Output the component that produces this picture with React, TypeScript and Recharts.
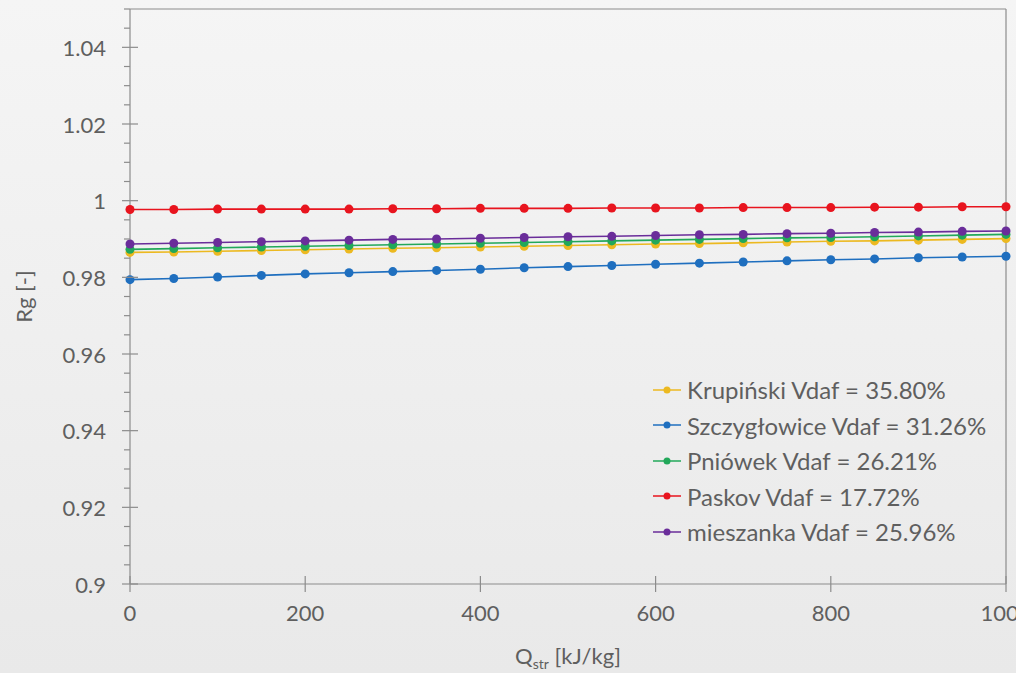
import React from "react";
import { LineChart, Line, XAxis, YAxis, Legend, ReferenceLine } from "recharts";

const qStr = [0, 50, 100, 150, 200, 250, 300, 350, 400, 450, 500, 550, 600, 650, 700, 750, 800, 850, 900, 950, 1000];

const krupinski = [0.9865, 0.9866, 0.9868, 0.9870, 0.9872, 0.9874, 0.9876, 0.9877, 0.9879, 0.9881, 0.9883, 0.9885, 0.9887, 0.9888, 0.9890, 0.9892, 0.9894, 0.9895, 0.9897, 0.9899, 0.9901];
const szczyglowice = [0.9794, 0.9797, 0.9801, 0.9805, 0.9809, 0.9812, 0.9815, 0.9818, 0.9821, 0.9825, 0.9828, 0.9831, 0.9834, 0.9837, 0.9840, 0.9843, 0.9846, 0.9848, 0.9851, 0.9853, 0.9855];
const pniowek = [0.9873, 0.9875, 0.9877, 0.9879, 0.9881, 0.9883, 0.9885, 0.9887, 0.9889, 0.9891, 0.9893, 0.9895, 0.9897, 0.9899, 0.9901, 0.9903, 0.9904, 0.9906, 0.9908, 0.9910, 0.9912];
const paskov = [0.9977, 0.9977, 0.9978, 0.9978, 0.9978, 0.9978, 0.9979, 0.9979, 0.9980, 0.9980, 0.9980, 0.9981, 0.9981, 0.9981, 0.9982, 0.9982, 0.9982, 0.9983, 0.9983, 0.9984, 0.9984];
const mieszanka = [0.9887, 0.9889, 0.9891, 0.9893, 0.9895, 0.9897, 0.9899, 0.9900, 0.9902, 0.9904, 0.9906, 0.9907, 0.9909, 0.9911, 0.9912, 0.9914, 0.9915, 0.9917, 0.9918, 0.9920, 0.9921];

const seriesNames = [
  "Krupiński Vdaf = 35.80%",
  "Szczygłowice Vdaf = 31.26%",
  "Pniówek Vdaf = 26.21%",
  "Paskov Vdaf = 17.72%",
  "mieszanka Vdaf = 25.96%",
];
const seriesColors = ["#ecb920", "#1f6fbf", "#22a85a", "#e8141e", "#6a2d9a"];
const seriesValues = [krupinski, szczyglowice, pniowek, paskov, mieszanka];

const xTicks = [0, 200, 400, 600, 800, 1000];
const yTicks = Array.from({ length: 31 }, (_, i) => +(0.9 + i * 0.005).toFixed(3));

const data = qStr.map((q, i) => {
  const row: Record<string, number> = { q };
  seriesNames.forEach((n, s) => (row["s" + s] = seriesValues[s][i]));
  return row;
});

const FONT = "Lato, 'Open Sans', sans-serif";
const TXT = "#5f5f5f";
const AXIS = "#8c8c8c";

const fmtY = (v: number) => String(Number(v.toFixed(2)));

function YTick(props: any) {
  const { x, y, payload } = props;
  const v = payload.value;
  const major = Math.round(v * 1000) % 20 === 0;
  return (
    <g>
      {major ? (
        <line x1={x - 8} x2={x + 8} y1={y} y2={y} stroke={AXIS} strokeWidth={1.2} />
      ) : (
        <line x1={x - 6} x2={x} y1={y} y2={y} stroke={AXIS} strokeWidth={1.2} />
      )}
      {major && v < 1.045 && (
        <text x={x - 24} y={y} textAnchor="end" dominantBaseline="central" fill={TXT} fontSize={22} fontFamily={FONT}>
          {fmtY(v)}
        </text>
      )}
    </g>
  );
}

function XTick(props: any) {
  const { x, y, payload } = props;
  return (
    <g>
      <line x1={x} x2={x} y1={y - 8} y2={y + 8} stroke={AXIS} strokeWidth={1.2} />
      <text x={x} y={y + 28} textAnchor="middle" dominantBaseline="central" fill={TXT} fontSize={22} fontFamily={FONT}>
        {payload.value}
      </text>
    </g>
  );
}

function XLabel(props: any) {
  const { viewBox } = props;
  const cx = viewBox.x + viewBox.width / 2;
  return (
    <text x={cx} y={viewBox.y + 80} textAnchor="middle" fill={TXT} fontSize={22} fontFamily={FONT}>
      Q<tspan fontSize={14} dy={5}>str</tspan>
      <tspan dy={-5}> [kJ/kg]</tspan>
    </text>
  );
}

function LegendBox(props: any) {
  const items = [...(props.payload || [])].sort(
    (a: any, b: any) => seriesNames.indexOf(a.value) - seriesNames.indexOf(b.value)
  );
  return (
    <div style={{ fontFamily: FONT, fontSize: 24, color: TXT }}>
      {items.map((p: any) => (
        <div key={p.value} style={{ display: "flex", alignItems: "center", height: 35.5, whiteSpace: "nowrap" }}>
          <svg width={30} height={12} style={{ marginRight: 4 }}>
            <line x1={0} x2={28} y1={6} y2={6} stroke={p.color} strokeWidth={1.5} />
            <circle cx={14} cy={6} r={3.5} fill={p.color} />
          </svg>
          <span>{p.value}</span>
        </div>
      ))}
    </div>
  );
}

export default function App() {
  return (
    <div
      style={{
        position: "absolute",
        left: 0,
        top: 0,
        width: 1016,
        height: 673,
        overflow: "hidden",
        background: "linear-gradient(#f5f5f5, #e9e9e9)",
      }}
    >
      <LineChart width={1060} height={673} data={data} margin={{ top: 9, right: 54, bottom: 0, left: 0 }}>
        <XAxis
          dataKey="q"
          type="number"
          domain={[0, 1000]}
          ticks={xTicks}
          tick={<XTick />}
          tickLine={false}
          tickSize={0}
          tickMargin={0}
          height={89}
          stroke={AXIS}
          strokeWidth={1.2}
          label={<XLabel />}
        />
        <YAxis
          type="number"
          domain={[0.9, 1.05]}
          ticks={yTicks}
          tick={<YTick />}
          tickLine={false}
          tickSize={0}
          tickMargin={0}
          width={130}
          interval={0}
          stroke={AXIS}
          strokeWidth={1.2}
          allowDataOverflow
          label={{
            value: "Rg [-]",
            angle: -90,
            position: "insideLeft",
            offset: 24,
            style: { fill: TXT, fontSize: 22, fontFamily: FONT, textAnchor: "middle" },
          }}
        />
        <ReferenceLine y={1.05} stroke={AXIS} strokeWidth={1.2} />
        <ReferenceLine x={1000} stroke={AXIS} strokeWidth={1.2} />
        {seriesNames.map((n, s) => (
          <Line
            key={n}
            dataKey={"s" + s}
            name={n}
            stroke={seriesColors[s]}
            strokeWidth={1.6}
            dot={{ r: 4.5, fill: seriesColors[s], stroke: seriesColors[s], strokeWidth: 0 }}
            isAnimationActive={false}
          />
        ))}
        <Legend
          layout="vertical"
          align="center"
          verticalAlign="middle"
          content={<LegendBox />}
          wrapperStyle={{ left: 653, top: 372, width: 360 }}
        />
      </LineChart>
    </div>
  );
}
